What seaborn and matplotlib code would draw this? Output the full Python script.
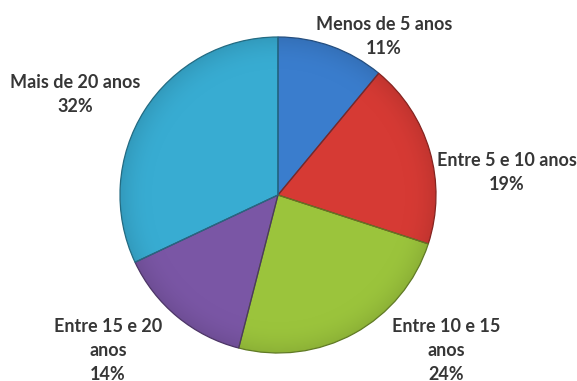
import numpy as np
import matplotlib
matplotlib.use("Agg")
import matplotlib.pyplot as plt
import matplotlib.colors as mcolors
import seaborn as sns

# Tempo de serviço (faixas) e respetivas percentagens
categories = ["Menos de 5 anos", "Entre 5 e 10 anos", "Entre 10 e 15\nanos",
              "Entre 15 e 20\nanos", "Mais de 20 anos"]
percentages = [11, 19, 24, 14, 32]
slice_colors = ["#3A7DCD", "#D63A34", "#9BC43C", "#7A56A5", "#38ACD2"]

# Label anchor points in pixel space (x from left, y from top)
label_pos = [(384, 36), (507, 172), (446, 350), (108, 350), (75, 95)]

W, H = 577, 381
CX, CY, R = 278, 195, 158

sns.set_theme(style="white")
plt.rcParams["font.family"] = ["Lato", "DejaVu Sans"]

fig = plt.figure(figsize=(W / 100, H / 100), dpi=100)
fig.patch.set_facecolor("white")
ax = fig.add_axes([0, 0, 1, 1])

center = (CX, H - CY)
wedges, _ = ax.pie(percentages, colors=slice_colors, startangle=90,
                   counterclock=False, radius=R, center=center,
                   wedgeprops=dict(linewidth=0.9))
ax.set_xlim(0, W)
ax.set_ylim(0, H)
ax.set_aspect("equal")
ax.axis("off")

# Bevel-like shading: darken toward the rim, each slice clipped to its wedge
yy, xx = np.mgrid[0:H, 0:W]
dist = np.hypot(xx - CX, yy - CY) / R
shade = np.clip(1.0 - 0.10 * np.clip((dist - 0.80) / 0.20, 0, 1) ** 2, 0, 1)
for w, c in zip(wedges, slice_colors):
    rgb = np.array(mcolors.to_rgb(c))
    w.set_edgecolor(tuple(rgb * 0.62))
    img = np.ones((H, W, 3)) * rgb[None, None, :] * shade[..., None]
    im = ax.imshow(img[::-1], extent=(0, W, 0, H), origin="lower",
                   zorder=w.get_zorder() - 0.1, interpolation="bilinear")
    im.set_clip_path(w)
    w.set_facecolor("none")
    w.set_zorder(w.get_zorder() + 0.5)

for (lx, ly), cat, p in zip(label_pos, categories, percentages):
    ax.text(lx, H - ly, f"{cat}\n{p}%", ha="center", va="center",
            fontsize=13, fontweight="bold", color="#363636",
            linespacing=1.5)

ax.set_xlim(0, W)
ax.set_ylim(0, H)
fig.savefig("out.png", dpi=100)
